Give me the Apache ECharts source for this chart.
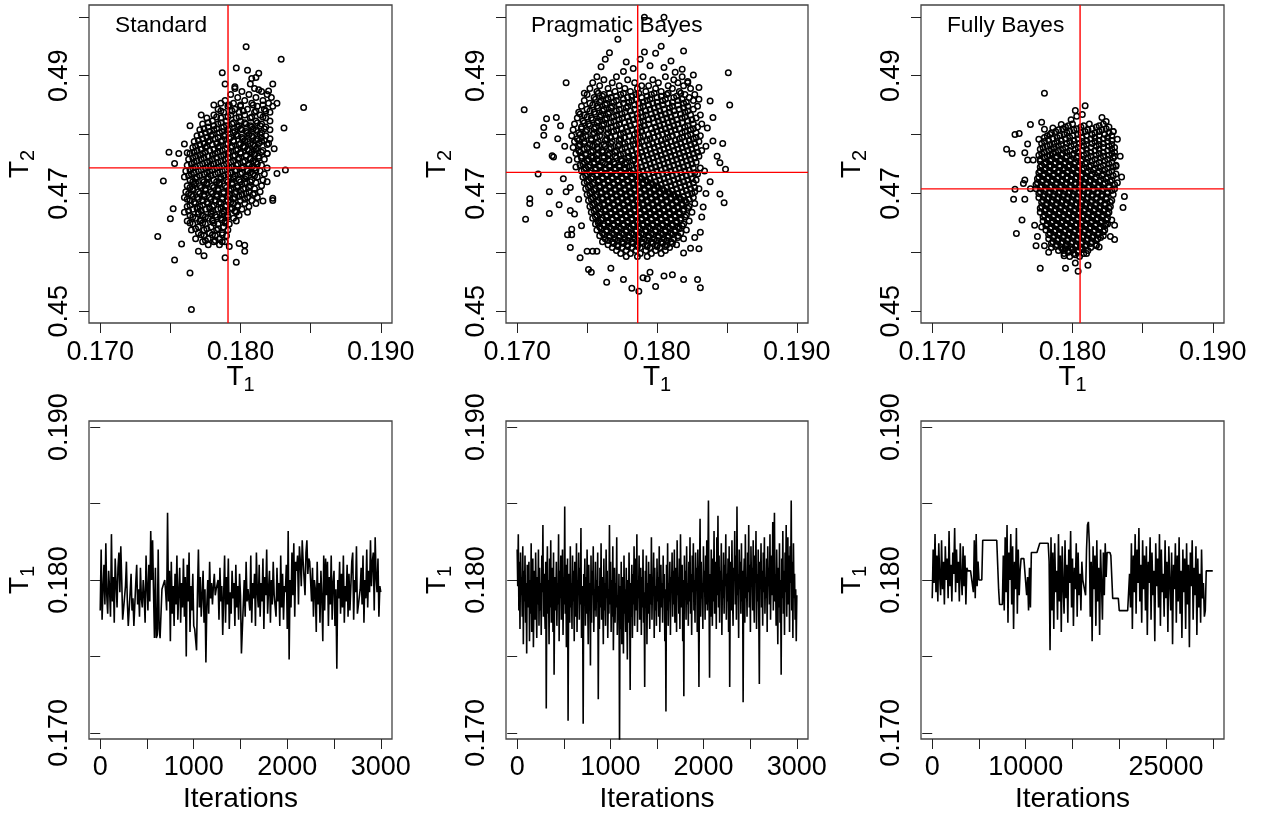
<!DOCTYPE html>
<html><head><meta charset="utf-8">
<script src="https://cdn.jsdelivr.net/npm/echarts@6/dist/echarts.min.js"></script>
<style>html,body{margin:0;padding:0;background:#fff}#c{width:1261px;height:817px}</style>
</head><body><div id="c"></div>
<script>
// ---------- DATA (T values in units of 1e-4) ----------
const panelTitles = ['Standard', 'Pragmatic Bayes', 'Fully Bayes'];
const t1Ticks = [0.170, 0.175, 0.180, 0.185, 0.190];
const t1Labels = [0.170, 0.180, 0.190];
const t2Ticks = [0.45, 0.46, 0.47, 0.48, 0.49, 0.50];
const t2Labels = [0.45, 0.47, 0.49];
const iterTicksShort = [0, 500, 1000, 1500, 2000, 2500, 3000];
const iterLabelsShort = [0, 1000, 2000, 3000];
const iterTicksLong = [0, 5000, 10000, 15000, 20000, 25000, 30000];
const iterLabelsLong = [0, 10000, 25000];

// reference (red) lines: [T1, T2]
const stdRef = [0.17911, 0.47435];
const pbRef = [0.17862, 0.47357];
const fbRef = [0.18054, 0.47078];

// Standard: point rows [T2, T1, T1, ...] and outliers [T1, T2]
const stdRows = [
[4878,1796,1810],[4873,1801,1815],[4868,1793,1806,1819],[4863,1798,1811,1822],[4858,1789,1803,1816],
[4853,1786,1795,1808,1820],[4848,1791,1800,1812,1823],[4843,1784,1796,1805,1817],[4838,1788,1799,1810,1821],
[4833,1781,1793,1803,1814],[4828,1776,1786,1797,1807,1818],[4823,1780,1790,1800,1811,1821],[4818,1773,1784,1794,1804,1815],
[4813,1777,1788,1798,1808,1818],[4808,1771,1781,1791,1801,1811,1821],[4803,1775,1785,1795,1805,1815],
[4798,1769,1779,1788,1798,1808,1818],[4793,1773,1782,1792,1802,1812,1821],[4788,1767,1777,1786,1795,1805,1815],
[4783,1771,1780,1790,1799,1809,1819],[4778,1766,1775,1784,1793,1803,1812],[4773,1769,1778,1787,1797,1806,1816],
[4768,1764,1773,1782,1791,1800,1810,1819],[4763,1768,1777,1786,1795,1804,1813],[4758,1763,1772,1780,1789,1798,1807,1817],
[4753,1767,1776,1784,1793,1802,1811],[4748,1762,1771,1779,1788,1797,1806,1815],[4743,1766,1775,1783,1792,1801,1810,1819],
[4738,1761,1770,1778,1787,1796,1805,1814],[4733,1765,1774,1782,1791,1800,1809,1817],[4728,1760,1769,1777,1786,1795,1804,1812],
[4723,1764,1773,1781,1790,1799,1808,1816],[4718,1768,1776,1785,1794,1803,1811],[4713,1762,1771,1780,1789,1798,1807,1815],
[4708,1766,1775,1784,1793,1802,1810],[4703,1761,1770,1779,1788,1797,1806,1814],[4698,1765,1774,1783,1792,1801,1809],
[4693,1760,1769,1778,1787,1796,1805,1812],[4688,1764,1773,1782,1791,1800,1808],[4683,1768,1777,1786,1795,1803,1811],
[4678,1762,1771,1780,1789,1798,1806],[4673,1766,1775,1784,1793,1801],[4668,1760,1770,1779,1788,1797,1805],
[4663,1764,1773,1782,1791,1799],[4658,1768,1777,1786,1795],[4653,1762,1771,1780,1789,1797],[4648,1766,1775,1784,1792],
[4643,1770,1779,1788],[4638,1765,1774,1783,1791],[4633,1770,1778,1787],[4628,1774,1782,1790],[4623,1768,1777,1785],
[4618,1773,1781,1789],[4613,1777,1785]
];
const stdRows2 = [
[4850,1792,1800,1809,1816],[4840,1786,1794,1802,1811,1818],[4830,1783,1791,1799,1808,1816],[4820,1777,1786,1795,1803,1812],
[4815,1781,1790,1799,1807,1814],[4810,1774,1783,1792,1800,1809,1817],[4805,1778,1787,1796,1804,1812],
[4800,1772,1780,1789,1797,1806,1814],[4795,1776,1784,1793,1801,1809,1815],[4790,1770,1778,1787,1795,1803,1811,1817],
[4785,1774,1783,1791,1800,1807,1813],[4780,1768,1776,1785,1794,1802,1810],[4775,1772,1781,1789,1798,1805,1811],
[4770,1767,1775,1784,1792,1800,1808,1815],[4765,1771,1780,1788,1796,1804,1810],[4760,1766,1774,1783,1791,1799,1807,1813],
[4755,1769,1778,1786,1795,1803,1809],[4750,1765,1773,1781,1790,1798,1806,1812],[4745,1768,1777,1785,1794,1802,1808],
[4740,1764,1772,1780,1789,1797,1805,1811],[4735,1767,1776,1784,1793,1801,1807],[4730,1763,1771,1779,1788,1796,1804,1810],
[4725,1768,1777,1786,1795,1803],[4720,1766,1774,1783,1791,1800,1807],[4715,1767,1776,1785,1794,1801],
[4710,1764,1772,1781,1790,1798,1806],[4705,1766,1775,1784,1792,1800],[4700,1763,1771,1780,1788,1796,1804,1810],
[4695,1766,1774,1783,1791,1799],[4690,1762,1770,1779,1787,1795,1803],[4685,1767,1776,1785,1793],
[4680,1764,1773,1781,1790,1798],[4675,1769,1778,1786,1794],[4670,1763,1772,1780,1788,1796],[4665,1770,1779,1787],
[4660,1766,1775,1783,1791],[4655,1772,1780,1787],[4650,1764,1773,1781,1789],[4640,1768,1776,1784],
[4630,1772,1780,1787],[4620,1775,1782]
];
const stdOut = [
[1804,4949],[1829,4928],[1797,4913],[1787,4905],[1805,4909],[1813,4904],[1808,4895],[1811,4897],[1789,4886],[1796,4881],
[1807,4886],[1823,4886],[1820,4874],[1813,4876],[1845,4846],[1781,4850],[1826,4853],[1831,4811],[1764,4815],[1772,4833],
[1749,4770],[1756,4768],[1762,4769],[1753,4751],[1760,4784],[1745,4721],[1832,4740],[1826,4734],[1823,4692],[1823,4688],
[1752,4674],[1750,4657],[1741,4627],[1758,4614],[1753,4587],[1764,4565],[1765,4503],[1797,4583],[1789,4591],[1792,4610],
[1799,4615],[1803,4612],[1803,4602],[1774,4594],[1770,4602],[1787,4618],[1816,4687],[1819,4720],[1824,4776],[1820,4785],[1819,4768]
];

// Pragmatic Bayes
const pbRows = [
[4898,1757,1771,1790,1806,1818],[4893,1762,1779,1797,1812],[4888,1754,1768,1784,1801,1815,1822],
[4883,1759,1773,1789,1794,1808,1819],[4878,1752,1765,1777,1786,1799,1811,1824],[4873,1757,1770,1781,1792,1803,1816],
[4868,1750,1762,1774,1785,1796,1807,1820,1827],[4863,1755,1767,1779,1789,1800,1812,1823],
[4858,1748,1760,1771,1782,1793,1804,1815,1826],[4853,1752,1764,1776,1787,1797,1808,1819],
[4848,1746,1757,1768,1779,1790,1801,1811,1822,1829],[4843,1750,1762,1773,1784,1795,1805,1816,1826],
[4838,1744,1755,1766,1777,1788,1799,1809,1820],[4833,1748,1760,1771,1782,1792,1803,1813,1824,1831],
[4828,1743,1753,1764,1775,1786,1797,1807,1818,1828],[4823,1747,1758,1769,1780,1790,1801,1811,1822],
[4818,1741,1751,1762,1773,1784,1794,1805,1815,1826,1832],[4813,1746,1756,1767,1778,1788,1799,1809,1820,1829],
[4808,1740,1750,1760,1771,1782,1792,1803,1813,1824],[4803,1744,1755,1765,1776,1786,1797,1807,1818,1828],
[4798,1739,1749,1759,1770,1780,1790,1801,1811,1822,1831],[4793,1743,1753,1764,1774,1785,1795,1806,1816,1826],
[4788,1741,1748,1758,1768,1779,1789,1800,1810,1820,1830],[4783,1745,1752,1762,1773,1783,1794,1804,1814,1824],
[4778,1740,1750,1757,1767,1777,1788,1798,1808,1818,1828],[4773,1744,1754,1761,1771,1782,1792,1802,1812,1822,1832],
[4768,1742,1749,1758,1766,1776,1786,1796,1806,1816,1826],[4763,1746,1753,1762,1770,1780,1790,1800,1810,1820,1830],
[4758,1743,1751,1757,1765,1774,1784,1794,1804,1814,1824],[4753,1748,1755,1761,1769,1778,1788,1798,1808,1818,1828],
[4748,1745,1752,1759,1766,1773,1782,1792,1802,1812,1822],[4743,1749,1756,1763,1770,1777,1786,1796,1806,1816,1826,1831],
[4738,1746,1753,1760,1767,1774,1780,1790,1800,1810,1820],[4733,1750,1757,1764,1771,1778,1784,1794,1804,1814,1824,1829],
[4728,1747,1754,1761,1768,1775,1782,1788,1798,1808,1818],[4723,1751,1758,1765,1772,1779,1786,1792,1802,1812,1822,1828],
[4718,1748,1755,1762,1769,1776,1783,1790,1796,1806,1816,1826],[4713,1752,1759,1766,1773,1780,1787,1794,1800,1810,1820],
[4708,1749,1756,1763,1770,1777,1784,1791,1798,1804,1814,1824,1830],[4703,1753,1760,1767,1774,1781,1788,1795,1802,1808,1818,1827],
[4698,1750,1757,1764,1771,1778,1785,1792,1799,1806,1812,1822],[4693,1754,1761,1768,1775,1782,1789,1796,1803,1810,1816,1826],
[4688,1751,1758,1765,1772,1779,1786,1793,1800,1807,1814,1820],[4683,1755,1762,1769,1776,1783,1790,1797,1804,1811,1818,1827],
[4678,1752,1759,1766,1773,1780,1787,1794,1801,1808,1815,1823],[4673,1756,1763,1770,1777,1784,1791,1798,1805,1812,1819],
[4668,1753,1760,1767,1774,1781,1788,1795,1802,1809,1816,1825],[4663,1757,1764,1771,1778,1785,1792,1799,1806,1813,1821],
[4658,1754,1761,1768,1775,1782,1789,1796,1803,1810,1817],[4653,1758,1765,1772,1779,1786,1793,1800,1807,1814,1823],
[4648,1756,1762,1769,1776,1783,1790,1797,1804,1811,1819],[4643,1759,1766,1773,1780,1787,1794,1801,1808,1815],
[4638,1757,1764,1771,1778,1785,1792,1799,1806,1813,1821],[4633,1761,1768,1775,1782,1789,1796,1803,1810,1817],
[4628,1759,1766,1773,1780,1787,1794,1801,1808,1815],[4623,1763,1770,1777,1784,1791,1798,1805,1812,1819],
[4618,1761,1768,1775,1782,1789,1796,1803,1810],[4613,1765,1772,1779,1786,1793,1800,1807,1814],
[4608,1768,1775,1782,1788,1795,1802,1809],[4603,1771,1778,1785,1792,1799,1806],[4598,1774,1781,1788,1796,1803],[4593,1778,1786,1793]
];
const pbRows2 = [
[4870,1758,1766,1776,1787,1798,1808,1817],[4865,1761,1771,1782,1793,1803,1814],[4860,1756,1765,1776,1785,1795,1806,1818],
[4855,1759,1769,1780,1790,1800,1811,1821],[4850,1754,1763,1773,1784,1794,1804,1815],[4845,1758,1767,1778,1788,1798,1809,1819],
[4840,1752,1761,1771,1781,1792,1802,1812,1822],[4835,1756,1765,1775,1786,1796,1806,1817],[4830,1750,1759,1769,1779,1790,1800,1810,1820],
[4825,1754,1763,1773,1783,1794,1804,1814,1825],[4820,1748,1757,1767,1777,1788,1798,1808,1818],[4815,1752,1761,1771,1781,1791,1802,1812,1822],
[4810,1746,1755,1765,1775,1786,1796,1806,1816,1826],[4805,1749,1759,1769,1779,1789,1800,1810,1820],[4800,1745,1754,1764,1774,1784,1794,1804,1814,1824],
[4795,1747,1757,1767,1777,1788,1798,1808,1818,1828],[4790,1744,1753,1763,1773,1783,1793,1803,1813,1823],[4785,1748,1757,1767,1777,1787,1797,1807,1817,1827],
[4780,1744,1754,1763,1772,1781,1791,1801,1811,1821],[4775,1748,1758,1766,1775,1785,1795,1805,1815,1825],[4770,1745,1753,1761,1770,1779,1789,1799,1809,1819,1829],
[4765,1749,1757,1765,1774,1783,1793,1803,1813,1823],[4760,1746,1754,1762,1771,1779,1787,1797,1807,1817,1827],[4755,1750,1758,1766,1775,1783,1791,1801,1811,1821],
[4750,1747,1755,1763,1770,1777,1785,1795,1805,1815,1825],[4745,1751,1759,1766,1773,1780,1789,1799,1809,1819],[4740,1748,1756,1763,1770,1777,1783,1793,1803,1813,1823],
[4735,1752,1760,1767,1774,1781,1787,1797,1807,1817,1827],[4730,1749,1757,1764,1771,1778,1785,1791,1801,1811,1821],[4725,1753,1761,1768,1775,1782,1789,1795,1805,1815,1825],
[4720,1750,1758,1765,1772,1779,1786,1793,1799,1809,1819],[4715,1754,1762,1769,1776,1783,1790,1797,1803,1813,1823],[4710,1751,1759,1766,1773,1780,1787,1794,1801,1807,1817,1827],
[4705,1755,1763,1770,1777,1784,1791,1798,1805,1811,1821],[4700,1752,1760,1767,1774,1781,1788,1795,1802,1809,1815,1825],[4695,1756,1764,1771,1778,1785,1792,1799,1806,1813,1819],
[4690,1753,1761,1768,1775,1782,1789,1796,1803,1810,1817,1823],[4685,1757,1765,1772,1779,1786,1793,1800,1807,1814,1821],[4680,1754,1762,1769,1776,1783,1790,1797,1804,1811,1818],
[4675,1758,1766,1773,1780,1787,1794,1801,1808,1815,1822],[4670,1755,1763,1770,1777,1784,1791,1798,1805,1812,1819],[4665,1759,1767,1774,1781,1788,1795,1802,1809,1816],
[4660,1756,1764,1771,1778,1785,1792,1799,1806,1813,1820],[4655,1760,1768,1775,1782,1789,1796,1803,1810,1817],[4650,1758,1765,1772,1779,1786,1793,1800,1807,1814],
[4645,1762,1769,1776,1783,1790,1797,1804,1811,1818],[4640,1760,1767,1774,1781,1788,1795,1802,1809,1816],[4635,1764,1771,1778,1785,1792,1799,1806,1813],
[4630,1762,1769,1776,1783,1790,1797,1804,1811],[4625,1766,1773,1780,1787,1794,1801,1808,1815],[4620,1765,1772,1779,1786,1793,1800,1807],
[4615,1769,1776,1783,1790,1797,1804,1811],[4610,1772,1779,1786,1793,1800,1806]
];
const pbOut = [
[1705,4842],[1715,4733],[1709,4691],[1709,4683],[1706,4656],[1723,4666],[1721,4827],[1728,4829],[1719,4812],[1719,4799],
[1714,4782],[1729,4793],[1731,4815],[1735,4888],[1772,4962],[1766,4939],[1763,4928],[1791,4999],[1805,4999],[1788,4928],
[1791,4940],[1799,4938],[1803,4950],[1819,4942],[1778,4923],[1805,4914],[1776,4907],[1813,4906],[1818,4911],[1826,4901],
[1851,4905],[1852,4850],[1830,4860],[1838,4857],[1840,4829],[1847,4785],[1840,4789],[1843,4763],[1845,4752],[1849,4741],
[1845,4699],[1848,4684],[1833,4677],[1831,4634],[1830,4606],[1824,4607],[1819,4599],[1811,4562],[1805,4560],[1819,4554],
[1829,4554],[1831,4540],[1799,4542],[1795,4566],[1790,4557],[1793,4555],[1787,4534],[1782,4539],[1776,4554],[1764,4549],
[1767,4573],[1751,4571],[1753,4566],[1745,4591],[1738,4608],[1750,4602],[1754,4602],[1757,4602],[1736,4630],[1739,4630],
[1739,4639],[1735,4703],[1723,4703],[1730,4681],[1738,4671],[1726,4762],[1725,4764],[1734,4780],[1742,4745],[1737,4757],
[1733,4725],[1738,4710],[1744,4690],[1741,4665],[1746,4645],[1836,4811],[1834,4738],[1838,4720],[1835,4700],[1832,4660],
[1827,4625],[1745,4835],[1748,4870],[1760,4915],[1783,4912],[1795,4917],[1810,4925],[1822,4890],[1830,4880],[1835,4780]
];

// Fully Bayes
const fbRows = [
[4818,1800,1812,1822],[4813,1795,1806,1817,1826],[4808,1790,1801,1811,1821],[4803,1785,1796,1806,1816,1826],
[4798,1782,1791,1800,1810,1819,1828],[4793,1786,1795,1804,1813,1822],[4788,1780,1789,1798,1807,1816,1825],
[4783,1784,1792,1801,1810,1819,1828],[4778,1779,1787,1795,1804,1813,1822,1830],[4773,1783,1790,1798,1807,1816,1825],
[4768,1778,1786,1793,1801,1810,1819,1828],[4763,1782,1789,1796,1804,1813,1822,1830],[4758,1777,1785,1792,1799,1807,1816,1825],
[4753,1781,1788,1795,1802,1810,1819,1828],[4748,1778,1784,1791,1798,1805,1813,1822,1831],[4743,1781,1787,1794,1801,1808,1816,1825],
[4738,1777,1784,1790,1797,1804,1811,1819,1828],[4733,1780,1787,1793,1800,1807,1814,1822,1831],[4728,1776,1783,1790,1796,1803,1810,1817,1825],
[4723,1779,1786,1793,1799,1806,1813,1820,1828],[4718,1775,1782,1789,1796,1802,1809,1816,1823,1832],[4713,1778,1785,1792,1799,1805,1812,1819,1826],
[4708,1774,1781,1788,1795,1802,1808,1815,1822,1830],[4703,1777,1784,1791,1798,1805,1811,1818,1825],[4698,1780,1787,1794,1801,1808,1814,1821,1829],
[4693,1776,1783,1790,1797,1804,1811,1817,1824],[4688,1779,1786,1793,1800,1807,1814,1820,1828],[4683,1782,1789,1796,1803,1810,1817,1823],
[4678,1778,1785,1792,1799,1806,1813,1820,1827],[4673,1781,1788,1795,1802,1809,1816,1823],[4668,1777,1784,1791,1798,1805,1812,1819,1826],
[4663,1780,1787,1794,1801,1808,1815,1822],[4658,1783,1790,1797,1804,1811,1818,1825],[4653,1779,1786,1793,1800,1807,1814,1821],
[4648,1782,1789,1796,1803,1810,1817,1824],[4643,1785,1792,1799,1806,1813,1820],[4638,1781,1788,1795,1802,1809,1816,1823],
[4633,1784,1791,1798,1805,1812,1819],[4628,1787,1794,1801,1808,1815,1822],[4623,1783,1790,1797,1804,1811,1818],
[4618,1786,1793,1800,1807,1814],[4613,1789,1796,1803,1810,1817],[4608,1785,1792,1799,1806,1813],[4603,1790,1797,1804,1811],
[4598,1794,1801,1808],[4593,1798,1805]
];
const fbRows2 = [
[4815,1797,1808,1819],[4810,1793,1803,1814,1824],[4805,1788,1798,1809,1819,1829],[4800,1784,1794,1804,1814,1823],
[4795,1780,1789,1798,1807,1816,1825],[4790,1783,1792,1801,1810,1819,1828],[4785,1778,1787,1796,1805,1814,1822],
[4780,1782,1790,1799,1808,1817,1826],[4775,1777,1785,1793,1802,1810,1819,1828],[4770,1780,1788,1796,1804,1813,1822,1830],
[4765,1776,1784,1792,1800,1808,1817,1826],[4760,1780,1788,1795,1803,1811,1820,1829],[4755,1777,1784,1791,1798,1806,1814,1823],
[4750,1780,1787,1794,1801,1809,1817,1826],[4745,1777,1784,1791,1797,1804,1812,1820,1829],[4740,1780,1787,1793,1800,1807,1815,1823],
[4735,1776,1783,1790,1796,1803,1810,1818,1826],[4730,1779,1786,1793,1799,1806,1813,1821,1829],[4725,1775,1782,1789,1796,1802,1809,1816,1824],
[4720,1778,1785,1792,1799,1805,1812,1819,1827],[4715,1774,1781,1788,1795,1802,1808,1815,1822,1830],[4710,1777,1784,1791,1798,1805,1811,1818,1826],
[4705,1780,1787,1794,1801,1808,1815,1821,1828],[4700,1776,1783,1790,1797,1804,1811,1818,1825],[4695,1779,1786,1793,1800,1807,1814,1821],
[4690,1782,1789,1796,1803,1810,1817,1824],[4685,1778,1785,1792,1799,1806,1813,1820,1827],[4680,1781,1788,1795,1802,1809,1816,1823],
[4675,1777,1784,1791,1798,1805,1812,1819,1826],[4670,1780,1787,1794,1801,1808,1815,1822],[4665,1783,1790,1797,1804,1811,1818,1825],
[4660,1779,1786,1793,1800,1807,1814,1821],[4655,1782,1789,1796,1803,1810,1817,1824],[4650,1785,1792,1799,1806,1813,1820],
[4645,1781,1788,1795,1802,1809,1816,1823],[4640,1784,1791,1798,1805,1812,1819],[4635,1787,1794,1801,1808,1815,1822],
[4630,1783,1790,1797,1804,1811,1818],[4625,1786,1793,1800,1807,1814,1820],[4620,1789,1796,1803,1810,1817],
[4615,1785,1792,1799,1806,1813],[4610,1788,1795,1802,1809],[4605,1793,1800,1807],[4600,1797,1804]
];
const fbOut = [
[1780,4870],[1809,4849],[1802,4841],[1803,4831],[1799,4825],[1807,4834],[1770,4817],[1778,4821],[1792,4817],[1786,4811],
[1780,4809],[1821,4829],[1824,4822],[1829,4805],[1832,4792],[1759,4800],[1762,4802],[1776,4792],[1768,4784],[1753,4775],
[1757,4768],[1766,4769],[1768,4757],[1772,4757],[1834,4763],[1831,4746],[1835,4728],[1766,4723],[1765,4717],[1759,4707],
[1770,4708],[1758,4690],[1766,4690],[1837,4695],[1836,4676],[1764,4655],[1760,4632],[1773,4646],[1775,4627],[1778,4643],
[1774,4611],[1827,4627],[1830,4622],[1830,4646],[1828,4655],[1825,4648],[1819,4609],[1817,4611],[1780,4611],[1783,4600],
[1794,4594],[1795,4606],[1802,4596],[1777,4573],[1795,4573],[1804,4568],[1802,4582],[1811,4578],[1810,4598]
];

// Trace plots of T1 (1e-4 units), one value per thinning step
const stdStep = 10;
const stdTrace = [
1780,1820,1774,1794,1810,1784,1824,1790,1778,1806, 1794,1776,1830,1786,1802,1772,1814,1798,1782,1808,
1818,1792,1822,1800,1774,1774,1774,1796,1812,1786, 1770,1770,1792,1804,1780,1788,1770,1770,1798,1810,
1784,1794,1776,1808,1788,1782,1800,1790,1772,1816, 1796,1780,1810,1786,1832,1800,1826,1792,1762,1808,
1762,1764,1820,1768,1762,1762,1794,1794,1794,1800, 1792,1780,1844,1786,1806,1760,1812,1778,1796,1770,
1804,1784,1816,1774,1792,1808,1772,1798,1782,1814, 1776,1802,1750,1810,1786,1818,1766,1796,1780,1804,
1770,1768,1768,1754,1792,1820,1782,1802,1776,1790, 1806,1772,1794,1746,1784,1800,1778,1812,1788,1798,
1784,1796,1804,1790,1794,1794,1800,1774,1808,1786, 1796,1764,1790,1816,1772,1802,1784,1814,1768,1792,
1778,1806,1788,1798,1770,1810,1782,1796,1774,1804, 1790,1752,1752,1752,1800,1776,1812,1786,1794,1794,
1780,1816,1772,1798,1788,1804,1770,1818,1792,1782, 1810,1776,1798,1786,1814,1768,1802,1790,1820,1778,
1794,1806,1772,1800,1784,1812,1790,1790,1776,1808, 1786,1798,1770,1816,1782,1804,1774,1796,1792,1810,
1768,1832,1748,1800,1782,1818,1790,1824,1776,1812, 1806,1816,1784,1822,1812,1796,1826,1812,1812,1790,
1818,1826,1804,1814,1812,1812,1786,1808,1776,1800, 1794,1766,1812,1784,1798,1772,1806,1788,1760,1816,
1780,1814,1790,1812,1770,1802,1784,1816,1774,1798, 1806,1770,1794,1742,1800,1788,1812,1778,1804,1782,
1816,1772,1796,1786,1810,1776,1804,1780,1780,1812, 1818,1774,1800,1792,1822,1778,1778,1778,1794,1808,
1784,1816,1772,1800,1788,1820,1782,1806,1792,1826, 1796,1812,1818,1780,1828,1802,1792,1814,1776,1796,
1792
];
const pbStep = 6;
const pbTrace = [
1820,1796,1830,1780,1812,1768,1818,1790,1802,1776,1822,1758,1806,1786,1816,1772,1798,1752,1810,1782,
1794,1812,1760,1800,1778,1824,1766,1796,1814,1756,1788,1806,1774,1818,1790,1762,1802,1784,1820,1770,
1808,1780,1798,1764,1816,1792,1836,1776,1804,1786,1768,1812,1716,1794,1822,1778,1800,1758,1814,1782,
1826,1772,1796,1808,1766,1818,1738,1790,1802,1780,1812,1770,1798,1784,1830,1760,1806,1788,1816,1774,
1792,1820,1764,1802,1784,1848,1778,1810,1756,1796,1814,1708,1788,1804,1772,1822,1782,1798,1768,1816,
1786,1806,1760,1812,1794,1776,1824,1766,1800,1790,1818,1774,1808,1784,1834,1762,1796,1780,1706,1804,
1792,1814,1770,1802,1778,1820,1788,1758,1810,1782,1798,1744,1816,1772,1806,1790,1822,1766,1794,1780,
1812,1776,1800,1786,1818,1722,1796,1768,1808,1782,1824,1774,1802,1790,1758,1814,1780,1798,1770,1820,
1788,1806,1762,1794,1778,1836,1784,1812,1766,1800,1776,1822,1754,1792,1808,1772,1798,1782,1828,1764,
1790,1774,1804,1690,1796,1768,1812,1758,1786,1802,1752,1816,1778,1794,1766,1808,1784,1748,1800,1772,
1818,1790,1728,1798,1776,1810,1762,1804,1784,1822,1770,1794,1814,1780,1830,1766,1800,1788,1816,1774,
1796,1808,1764,1802,1782,1820,1772,1792,1730,1806,1786,1816,1758,1798,1778,1812,1790,1768,1804,1784,
1828,1774,1800,1792,1818,1762,1808,1780,1796,1770,1814,1786,1802,1776,1822,1766,1794,1810,1782,1798,
1772,1816,1788,1804,1760,1794,1714,1810,1780,1824,1770,1798,1786,1812,1764,1802,1792,1818,1776,1806,
1784,1820,1772,1796,1808,1766,1826,1790,1802,1778,1814,1768,1830,1794,1782,1810,1760,1800,1724,1816,
1790,1806,1774,1822,1784,1798,1770,1812,1786,1828,1778,1804,1764,1816,1792,1824,1780,1800,1772,1818,
1794,1808,1766,1820,1782,1730,1802,1840,1776,1812,1788,1798,1768,1822,1792,1806,1774,1816,1784,1826,
1780,1810,1852,1790,1736,1804,1776,1820,1794,1770,1814,1786,1832,1778,1800,1812,1768,1828,1790,1842,
1782,1816,1772,1806,1794,1824,1764,1800,1788,1818,1778,1810,1796,1830,1774,1804,1786,1814,1766,1822,
1730,1798,1812,1780,1826,1792,1770,1808,1800,1832,1784,1816,1774,1848,1790,1804,1762,1820,1794,1812,
1778,1824,1786,1806,1720,1800,1814,1772,1830,1788,1802,1776,1818,1792,1836,1782,1810,1766,1822,1796,
1808,1780,1826,1790,1772,1816,1798,1832,1768,1804,1786,1820,1776,1732,1812,1794,1824,1782,1806,1770,
1818,1792,1828,1778,1802,1788,1814,1766,1822,1796,1808,1784,1830,1774,1800,1816,1790,1838,1780,1812,
1844,1786,1804,1770,1820,1794,1758,1808,1782,1824,1772,1800,1738,1814,1788,1832,1778,1806,1764,1818,
1792,1836,1776,1810,1828,1784,1816,1766,1822,1798,1852,1780,1812,1762,1824,1788,1804,1774,1794,1760,
1790
];
const fbStep = 100;
const fbTrace = [
1788,1820,1798,1830,1792,1816,1786,1824,1802,1790, 1826,1794,1812,1784,1822,1800,1814,1788,1832,1796,
1810,1786,1818,1804,1834,1792,1820,1798,1812,1786, 1824,1802,1790,1822,1796,1816,1784,1808,1806,1806,
1806,1806,1806,1806, 1792,1826,1788,1830,1796,1812, 1800,1800,1800,1800,
1826,1826,1826,1826,1826,1826,1826,1826,1826,1826,1826,1826,1826,1826,1826,1826,
1810,1794, 1784,1784,1784,1784,
1816,1780,1828,1792,1836,1772,1818,1800,1830,1784,1822,1768,1812,1794,1834,1778,1820,1790,1806,1814,
1814,1814,1814,1814,1814, 1790,1802,1780,1808,1782,
1818,1818,1818,1818,1818,1818,1818,1818,1818, 1824,1824,1824,1824,1824,1824,1824,1824,1824,1824,
1812,1754,1828,1780,1818,1768,1824,1792,1806,1774, 1830,1786,1816,1766,1822,1796,1778,1826,1788,1810,
1772,1820,1798,1832,1782,1814,1770,1808,1794,1824, 1776,1818,1790,1804,1780,1812,
1800,1800,1800,
1790,1820,1836,1838,1824,1776,1812,1760,1822,1794,1816,1770,1826,1786,1808,1764,1820,1798,1774,1818,1790,1824,1802,
1818,1818,1818,1818, 1816,1816, 1788,1788,1788,1788,1788,1788,1788, 1780,1780,1780,1780,1780,1780,1780,1780,1780,1780,1780,
1804,1782,1824,1768,1816,1792,1830,1778,1820,1798, 1834,1786,1810,1772,1826,1794,1816,1780,1822,1764,
1812,1798,1828,1774,1818,1790,1806,1760,1824,1796, 1814,1782,1830,1770,1820,1792,1804,1776,1826,1788,
1812,1766,1822,1798,1780,1818,1758,1810,1794,1824, 1772,1816,1786,1828,1778,1806,1762,1820,1792,1814,
1768,1824,1784,1810,1756,1818,1796,1826,1774,1808, 1790,1822,1764,1814,1782,1804,1772,1820,1788,1798,
1776,1780,
1806,1806,1806,1806,1806,1806,1806,1806
];

// ---------- BUILD ----------
const FONT = 'Liberation Sans, Arial, Helvetica, sans-serif';
const S = 1e4;
// axis limits (R-style 4% extension of the ranges)
const T1_LIM = [0.1692, 0.1908];
const T2_LIM = [0.448, 0.502];
const TRACE_LIM = [0.1696, 0.1904];

function rowsToPoints(rows) {
  const out = [];
  rows.forEach(r => { for (let k = 1; k < r.length; k++) out.push([r[k] / S, r[0] / S]); });
  return out;
}
function pairs(list) { return list.map(p => [p[0] / S, p[1] / S]); }
function trace(vals, step) { return vals.map((v, i) => [i * step, v / S]); }

const scatterSets = [
  rowsToPoints(stdRows).concat(rowsToPoints(stdRows2), pairs(stdOut)),
  rowsToPoints(pbRows).concat(rowsToPoints(pbRows2), pairs(pbOut)),
  rowsToPoints(fbRows).concat(rowsToPoints(fbRows2), pairs(fbOut))
];
const refs = [stdRef, pbRef, fbRef];
const traces = [trace(stdTrace, stdStep), trace(pbTrace, pbStep), trace(fbTrace, fbStep)];

const lefts = [89, 506, 921];
const widths = [303, 302, 303];
const titleLefts = [115, 531, 947];
const grids = [], xAxes = [], yAxes = [], series = [], titles = [];

const subName = (main, sub) => `{t|${main}}{s|${sub}}`;
const richName = {
  t: { fontSize: 28, lineHeight: 36, fontFamily: FONT, color: '#000' },
  s: { fontSize: 20, lineHeight: 20, verticalAlign: 'bottom', fontFamily: FONT, color: '#000' }
};
const tickStyle = { show: true, inside: false, length: 10, lineStyle: { color: '#222', width: 1 } };
const labelBase = { fontSize: 27, fontFamily: FONT, color: '#000' };
const redLine = { color: '#ff0000', width: 1.4, type: 'solid' };

for (let i = 0; i < 3; i++) {
  grids.push({ left: lefts[i], top: 5, width: widths[i], height: 318, show: true, borderColor: '#444', borderWidth: 1.3, backgroundColor: 'transparent', containLabel: false, outerBoundsMode: 'none' });
  grids.push({ left: lefts[i], top: 421, width: widths[i], height: 318, show: true, borderColor: '#444', borderWidth: 1.3, backgroundColor: 'transparent', containLabel: false, outerBoundsMode: 'none' });
  const gTop = 2 * i, gBot = 2 * i + 1;

  xAxes.push({
    type: 'value', gridIndex: gTop, min: T1_LIM[0], max: T1_LIM[1],
    axisLine: { show: false }, splitLine: { show: false },
    axisTick: Object.assign({ customValues: t1Ticks }, tickStyle),
    axisLabel: Object.assign({ customValues: t1Labels, margin: 16, formatter: v => v.toFixed(3) }, labelBase),
    name: subName('T', '1'), nameLocation: 'middle', nameGap: 36, nameMoveOverlap: false,
    nameTextStyle: { rich: richName }
  });
  yAxes.push({
    type: 'value', gridIndex: gTop, min: T2_LIM[0], max: T2_LIM[1],
    axisLine: { show: false }, splitLine: { show: false },
    axisTick: Object.assign({ customValues: t2Ticks }, tickStyle),
    axisLabel: Object.assign({ customValues: t2Labels, margin: 16, rotate: 90, formatter: v => v.toFixed(2) }, labelBase),
    name: subName('T', '2'), nameLocation: 'middle', nameRotate: 90, nameGap: 51, nameMoveOverlap: false,
    nameTextStyle: { rich: richName }
  });
  const longRun = i === 2;
  xAxes.push({
    type: 'value', gridIndex: gBot, min: longRun ? -1200 : -120, max: longRun ? 31200 : 3120,
    axisLine: { show: false }, splitLine: { show: false },
    axisTick: Object.assign({ customValues: longRun ? iterTicksLong : iterTicksShort }, tickStyle),
    axisLabel: Object.assign({ customValues: longRun ? iterLabelsLong : iterLabelsShort, margin: 15, formatter: v => String(v) }, labelBase),
    name: 'Iterations', nameLocation: 'middle', nameGap: 46, nameMoveOverlap: false,
    nameTextStyle: { fontSize: 28, fontFamily: FONT, color: '#000' }
  });
  yAxes.push({
    type: 'value', gridIndex: gBot, min: TRACE_LIM[0], max: TRACE_LIM[1],
    axisLine: { show: false }, splitLine: { show: false },
    axisTick: Object.assign({ customValues: t1Ticks }, tickStyle),
    axisLabel: Object.assign({ customValues: t1Labels, margin: 16, rotate: 90, formatter: v => v.toFixed(3) }, labelBase),
    name: subName('T', '1'), nameLocation: 'middle', nameRotate: 90, nameGap: 51, nameMoveOverlap: false,
    nameTextStyle: { rich: richName }
  });

  series.push({
    type: 'scatter', xAxisIndex: gTop, yAxisIndex: gTop, data: scatterSets[i],
    symbol: 'circle', symbolSize: 5.5, progressive: 0, silent: true, z: 2,
    itemStyle: { color: 'rgba(0,0,0,0)', borderColor: '#000', borderWidth: 1.5, opacity: 1 },
    emphasis: { disabled: true }
  });
  // red reference lines through the whole panel
  series.push({
    type: 'line', xAxisIndex: gTop, yAxisIndex: gTop, z: 5, silent: true,
    data: [[refs[i][0], T2_LIM[0]], [refs[i][0], T2_LIM[1]]],
    showSymbol: false, symbol: 'none', lineStyle: redLine, itemStyle: { color: '#ff0000' }, emphasis: { disabled: true }
  });
  series.push({
    type: 'line', xAxisIndex: gTop, yAxisIndex: gTop, z: 5, silent: true,
    data: [[T1_LIM[0], refs[i][1]], [T1_LIM[1], refs[i][1]]],
    showSymbol: false, symbol: 'none', lineStyle: redLine, itemStyle: { color: '#ff0000' }, emphasis: { disabled: true }
  });
  series.push({
    type: 'line', xAxisIndex: gBot, yAxisIndex: gBot, data: traces[i],
    showSymbol: false, symbol: 'none', clip: true, silent: true,
    lineStyle: { color: '#000', width: 1.6 }, itemStyle: { color: '#000' }, emphasis: { disabled: true }
  });

  titles.push({
    text: panelTitles[i], left: titleLefts[i], top: 14, padding: 0,
    textStyle: { fontSize: 22.7, fontWeight: 'normal', fontFamily: FONT, color: '#000' }
  });
}

const chart = echarts.init(document.getElementById('c'), null, { renderer: 'canvas' });
chart.setOption({
  animation: false,
  backgroundColor: '#fff',
  title: titles,
  grid: grids,
  xAxis: xAxes,
  yAxis: yAxes,
  series: series
});
</script></body></html>
